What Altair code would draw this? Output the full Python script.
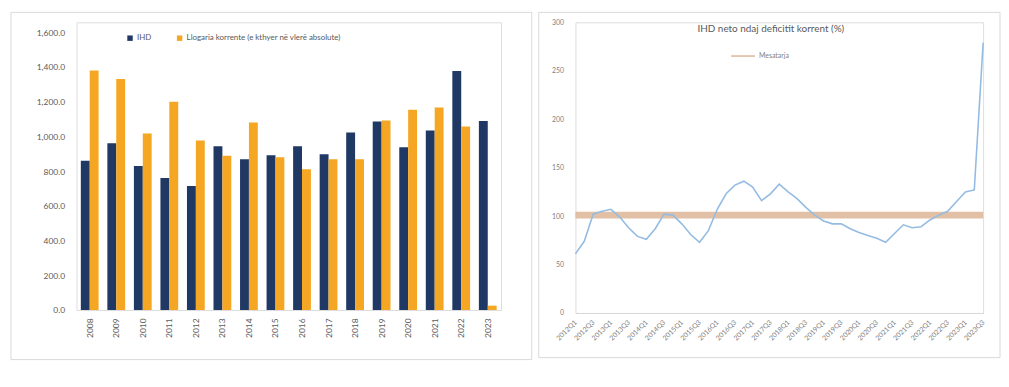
import altair as alt
import pandas as pd

# ---------------- data ----------------
years = [str(y) for y in range(2008, 2024)]
ihd = [860, 960, 829, 760, 714, 943, 869, 891, 943, 897, 1023, 1086, 937, 1034, 1377, 1088]
ca_abs = [1380, 1331, 1017, 1200, 977, 889, 1080, 880, 811, 869, 869, 1091, 1154, 1166, 1057, 25]
series_names = ["IHD", "Llogaria korrente (e kthyer në vlerë absolute)"]

periods = [f"{y}Q{q}" for y in range(2012, 2024) for q in range(1, 5)][:47]
ratio = [61, 74, 102, 105, 107, 99, 88, 79, 76, 87, 102, 101, 92, 81, 73, 85,
         107, 123, 132, 136, 130, 116, 123, 133, 125, 118, 109, 101, 95, 92, 92,
         87, 83, 80, 77, 73, 82, 91, 88, 89, 96, 101, 105, 115, 125, 127, 279]
mean_value = 101
mean_name = "Mesatarja"
right_title = "IHD neto ndaj deficitit korrent (%)"

NAVY = "#1F3864"
GOLD = "#F5A623"
BLUE = "#94BCE2"
TAN = "#DDB597"
GRAY = "#595959"
BORDER = "#D9D9D9"

bars_df = pd.DataFrame(
    [{"year": y, "series": series_names[0], "value": v} for y, v in zip(years, ihd)]
    + [{"year": y, "series": series_names[1], "value": v} for y, v in zip(years, ca_abs)]
)
ratio_df = pd.DataFrame({"period": periods, "value": ratio})
mean_df = pd.DataFrame({"period": periods, "value": [mean_value] * len(periods), "series": mean_name})
one = pd.DataFrame({"a": [0]})

# ---------------- left panel ----------------
# plot area spans 290 px; the 0..1600 ticks occupy the lower 280 px
LW, LH = 428, 290
left_border = alt.Chart(one).mark_rect(fillOpacity=0, stroke=BORDER, strokeWidth=1).encode(
    x=alt.value(-66), x2=alt.value(459), y=alt.value(-10), y2=alt.value(340)
)
bars = alt.Chart(bars_df).mark_bar().encode(
    x=alt.X("year:N", sort=years, title=None,
            scale=alt.Scale(paddingInner=0.33, paddingOuter=0.165),
            axis=alt.Axis(labelAngle=270, labelAlign="right", labelBaseline="middle",
                          labelPadding=8, labelFontSize=8.5, labelColor=GRAY,
                          ticks=False, domain=False)),
    xOffset=alt.XOffset("series:N", sort=series_names,
                        scale=alt.Scale(paddingInner=0, paddingOuter=0)),
    y=alt.Y("value:Q", title=None, scale=alt.Scale(domain=[0, 1600 * 290 / 280], nice=False),
            axis=alt.Axis(values=list(range(0, 1601, 200)), format=",.1f",
                          labelPadding=12, labelFontSize=8.5, labelColor=GRAY,
                          ticks=False, domain=False, grid=False)),
    color=alt.Color("series:N", sort=series_names,
                    scale=alt.Scale(domain=series_names, range=[NAVY, GOLD]),
                    legend=alt.Legend(title=None, orient="none", legendX=50, legendY=12,
                                      direction="horizontal", symbolType="square",
                                      symbolSize=30, labelFontSize=8, labelColor=GRAY,
                                      columnPadding=24, labelOffset=3)),
)
left = alt.layer(left_border, bars).properties(width=LW, height=LH)

# ---------------- right panel ----------------
RW, RH = 411, 293
right_border = alt.Chart(one).mark_rect(fillOpacity=0, stroke=BORDER, strokeWidth=1).encode(
    x=alt.value(-37), x2=alt.value(428), y=alt.value(-10), y2=alt.value(338)
)
xenc = alt.X("period:N", sort=periods, title=None,
             scale=alt.Scale(type="point", padding=0),
             axis=alt.Axis(values=periods[::2], labelAngle=315, labelAlign="right",
                           labelBaseline="middle", labelPadding=8, labelFontSize=7,
                           labelColor="#7F7F7F", ticks=False, domain=True,
                           domainColor=BORDER, labelOverlap=False))
yenc = alt.Y("value:Q", title=None, scale=alt.Scale(domain=[0, 300], nice=False),
             axis=alt.Axis(values=list(range(0, 301, 50)), labelPadding=12,
                           labelFontSize=7, labelColor="#7F7F7F", ticks=False,
                           domain=False, grid=False))
mean_line = alt.Chart(mean_df).mark_line(strokeWidth=7, opacity=0.85).encode(
    x=xenc, y=yenc,
    color=alt.Color("series:N", scale=alt.Scale(domain=[mean_name], range=[TAN]),
                    legend=alt.Legend(title=None, orient="none", legendX=156, legendY=21,
                                      symbolType="stroke", symbolSize=576,
                                      symbolStrokeWidth=1.5, symbolOpacity=1,
                                      labelFontSize=7, labelColor="#7F7F7F", labelOffset=3)),
)
ratio_line = alt.Chart(ratio_df).mark_line(strokeWidth=1.6, color=BLUE).encode(x=xenc, y=yenc)
title_txt = alt.Chart(one).mark_text(fontSize=10, color=GRAY, align="center", baseline="middle").encode(
    x=alt.value(197), y=alt.value(7), text=alt.value(right_title)
)
right = alt.layer(right_border, mean_line, ratio_line, title_txt).properties(width=RW, height=RH)

chart = alt.hconcat(left, right, spacing=5).resolve_scale(color="independent").properties(
    padding={"left": 2, "top": 2, "right": 0, "bottom": 0}
).configure_view(stroke=None).configure(font="Lato")

chart.save("out.html", embed_options={"renderer": "svg", "actions": False})
